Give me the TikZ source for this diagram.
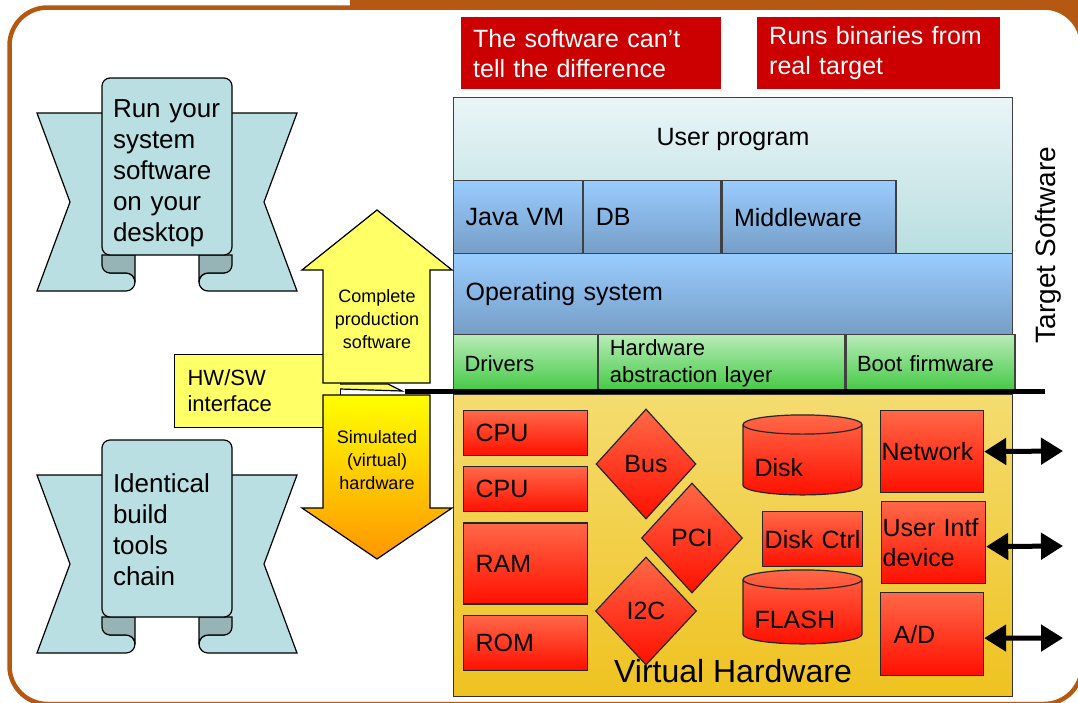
\documentclass[tikz,border=0pt]{standalone}
\usepackage{fontspec}
\setmainfont{Liberation Sans}
\usetikzlibrary{positioning,shapes.geometric,arrows.meta}

\definecolor{framebrown}{RGB}{181,89,18}
\definecolor{notered}{RGB}{204,0,0}
\definecolor{scrolllight}{RGB}{185,223,226}
\definecolor{scrolldark}{RGB}{150,180,182}
\definecolor{calloutyellow}{RGB}{255,255,102}
\definecolor{usertop}{RGB}{234,245,247}
\definecolor{userbot}{RGB}{184,222,224}
\definecolor{bluetop}{RGB}{153,204,255}
\definecolor{bluebot}{RGB}{118,158,198}
\definecolor{greentop}{RGB}{184,236,184}
\definecolor{greenbot}{RGB}{64,200,64}
\definecolor{hwtop}{RGB}{244,220,112}
\definecolor{hwbot}{RGB}{239,194,32}
\definecolor{redtop}{RGB}{255,104,72}
\definecolor{redbot}{RGB}{255,16,0}
\definecolor{arrowtop}{RGB}{255,255,0}
\definecolor{arrowbot}{RGB}{255,150,0}

\newcommand{\fsz}[2]{\fontsize{#1}{#2}\selectfont}

\begin{document}
\begin{tikzpicture}[x=1pt, y=-1pt,
  layer/.style={draw=black!75, line width=1.2pt, anchor=north west, inner xsep=12pt, inner ysep=0pt, align=left, font=\fsz{25}{29}},
  userfill/.style={top color=usertop, bottom color=userbot},
  bluefill/.style={top color=bluetop, bottom color=bluebot},
  greenfill/.style={top color=greentop, bottom color=greenbot, font=\fsz{22}{27}, inner xsep=11pt},
  hwpart/.style={draw=black!85, line width=1.2pt, top color=redtop, bottom color=redbot, inner sep=0pt, font=\fsz{25}{30}},
  hwbox/.style={hwpart, anchor=north west, align=left},
  hwcyl/.style={hwpart, cylinder, shape border rotate=90, aspect=0.2, minimum width=119pt, text width=96pt, text height=32pt, text depth=0pt, align=left},
  note/.style={fill=notered, text=white, anchor=north west, minimum height=72pt, inner xsep=12pt, inner ysep=0pt, align=left, font=\fsz{25}{30}},
  scrollwing/.style={draw, line width=1.2pt, fill=scrolllight},
  scrollcurl/.style={draw, line width=1.2pt, fill=scrolldark},
  scrollpanel/.style={draw, line width=1.2pt, fill=scrolllight, rounded corners=8pt, minimum width=130pt, minimum height=177pt},
  scrolltext/.style={text width=108pt, align=left, font=\fsz{26}{31}},
  blockarrow/.style={draw, line width=1.2pt},
  arrowtext/.style={font=\fsz{18}{23}, align=center},
  devarrow/.style={line width=5pt, arrows={Triangle[length=22pt,width=26pt]-Triangle[length=22pt,width=26pt]}}
]
\useasboundingbox (0,0) rectangle (1078,702);

% frame
\fill[framebrown] (350,0) rectangle (1082,50);
\draw[framebrown, line width=4.5pt, fill=white, rounded corners=38pt] (9.5,7.5) rectangle (1082,704);

% scrolls
\foreach \nm/\dy/\ty/\txt in {runscroll/0/173.5/{Run your\\system\\software\\on your\\desktop}, toolscroll/362/167.5/{Identical\\build\\tools\\chain}}{
  \begin{scope}[shift={(167,\dy)}]
    \foreach \s in {1,-1}{
      \begin{scope}[xscale=\s]
        \filldraw[scrollwing] (-130,113) -- (-57,113) -- (-57,273) -- (-41,273)
          .. controls (-36,273) and (-32,277) .. (-32,282)
          .. controls (-32,287) and (-36,291) .. (-41,291) -- (-130,291) -- (-97,202) -- cycle;
        \filldraw[scrollcurl] (-65,255) -- (-65,265) .. controls (-65,269.4) and (-61.4,273) .. (-57,273)
          -- (-41,273) .. controls (-36,273) and (-32,277) .. (-32,282) -- (-32,255) -- cycle;
      \end{scope}
    }
    \node[scrollpanel] (\nm) at (0,166.5) {};
    \node[scrolltext] (\nm-txt) at (0,\ty) {\txt};
  \end{scope}
}

% notes
\node[note, text width=236pt] (nodiff) at (461,17) {The software can’t\\tell the difference};
\node[note, text width=219pt] (realbin) at (757,17) {Runs binaries from\\real target};

% software stack
\node[layer, userfill, text width=535pt, minimum height=156pt] (userprog) at (453,97) {};
\node[font=\fsz{25}{29}] (usertxt) at (733,139) {User program};
\node[layer, bluefill, text width=105pt, minimum height=73pt] (javavm) at (453,180) {Java VM};
\node[layer, bluefill, text width=113pt, minimum height=73pt, right=0pt of javavm] (db) {DB};
\node[layer, bluefill, text width=150pt, minimum height=73pt, right=0pt of db] (mware) {Middleware};
\node[layer, bluefill, text width=535pt, minimum height=81pt] (os) at (453,253) {Operating system};
\node[layer, greenfill, text width=122pt, minimum height=58pt] (drivers) at (453,334) {Drivers};
\node[layer, greenfill, text width=224pt, minimum height=58pt, right=0pt of drivers] (hal) {Hardware\\abstraction layer};
\node[layer, greenfill, text width=147pt, minimum height=58pt, right=0pt of hal] (boot) {Boot firmware};
\node[rotate=90, font=\fsz{28}{32}] (tgtsw) at (1048,245) {Target Software};

% virtual hardware
\node[draw=black!80, line width=1.2pt, top color=hwtop, bottom color=hwbot, anchor=north west, minimum width=559pt, minimum height=302pt, inner sep=0pt] (vhw) at (453,394) {};
\node[font=\fsz{32}{36}] (vhwtxt) at (733,671) {Virtual Hardware};

\node[hwbox, text width=100pt, inner xsep=12pt, minimum height=45pt] (cpua) at (463,410) {CPU};
\node[hwbox, text width=100pt, inner xsep=12pt, minimum height=45pt, below=10pt of cpua] (cpub) {CPU};
\node[hwbox, text width=100pt, inner xsep=12pt, minimum height=81pt, below=10pt of cpub] (ram) {RAM};
\node[hwbox, text width=100pt, inner xsep=12pt, minimum height=55pt, below=10pt of ram] (rom) {ROM};

\node[hwpart, diamond, minimum width=100pt, minimum height=110pt] (bus) at (646,464) {Bus};
\node[hwpart, diamond, minimum width=101pt, minimum height=110pt] (pci) at (692,538) {PCI};
\node[hwpart, diamond, minimum width=101pt, minimum height=108pt] (i2c) at (646,611) {I2C};

\node[hwcyl, minimum height=80pt] (disk) at (802.5,460) {Disk};
\node[hwbox, text width=100pt, minimum height=55pt, align=center] (diskctrl) at (762,511) {Disk Ctrl};
\node[hwcyl, minimum height=74pt] (flash) at (802.5,612) {FLASH};

\node[hwbox, text width=101pt, inner xsep=1pt, minimum height=82pt] (net) at (880,410) {Network};
\node[hwbox, text width=102pt, inner xsep=1pt, minimum height=82pt] (uid) at (881,501) {User Intf\\device};
\node[hwbox, text width=77pt, inner xsep=13pt, minimum height=83pt] (ad) at (880,592) {A/D};

\coordinate (netout) at (1063,451);
\coordinate (uidout) at (1063,546);
\coordinate (adout) at (1063,638);
\draw[devarrow] (net.east) -- (netout);
\draw[devarrow] ([yshift=-4pt]uid.east) -- (uidout);
\draw[devarrow] ([yshift=-4pt]ad.east) -- (adout);

% HW/SW interface callout
\coordinate (hwswtip) at (402,391);
\node[draw, line width=1.2pt, fill=calloutyellow, anchor=north west, text width=140pt, inner xsep=13pt, minimum height=73pt, align=left, font=\fsz{22}{26}] (hwsw) at (174,354) {HW/SW\\interface};
\filldraw[line width=1.2pt, fill=calloutyellow] (340,384) -- (388,384) -- (hwswtip) -- (340,389);

% block arrows
\filldraw[blockarrow, fill=calloutyellow] (377,210) -- (452,270) -- (430,270) -- (430,383) -- (323,383) -- (323,270) -- (302,270) -- cycle;
\node[arrowtext] (prodsw) at (377,319) {Complete\\production\\software};
\path[blockarrow, top color=arrowtop, bottom color=arrowbot] (323,395) -- (430,395) -- (430,508) -- (452,508) -- (377,559) -- (302,508) -- (323,508) -- cycle;
\node[arrowtext] (simhw) at (377,460) {Simulated\\(virtual)\\hardware};

% the HW/SW line
\coordinate (swl) at (405,391);
\coordinate (swr) at (1045,391);
\draw[line width=5pt] (swl) -- (swr);
\end{tikzpicture}
\end{document}
